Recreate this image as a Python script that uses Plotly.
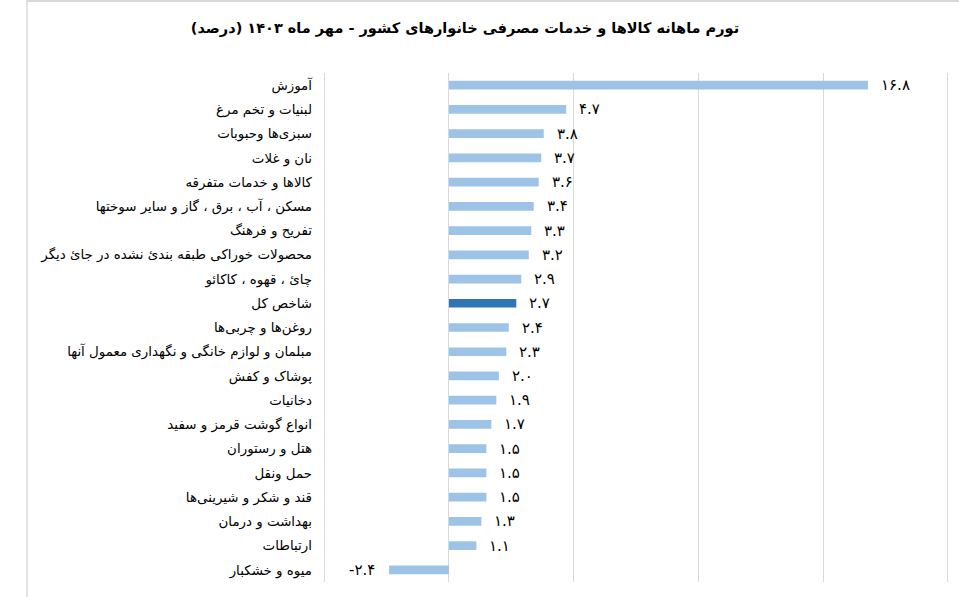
import plotly.graph_objects as go

# ---- data ----
categories = [
    "آموزش",
    "لبنیات و تخم مرغ",
    "سبزی‌ها وحبوبات",
    "نان و غلات",
    "کالاها و خدمات متفرقه",
    "مسکن ، آب ، برق ، گاز و سایر سوختها",
    "تفریح و فرهنگ",
    "محصولات خوراکی طبقه بندیٔ نشده در جایٔ دیگر",
    "چایٔ ، قهوه ، کاکائو",
    "شاخص کل",
    "روغن‌ها و چربی‌ها",
    "مبلمان و لوازم خانگی و نگهداری معمول آنها",
    "پوشاک و کفش",
    "دخانیات",
    "انواع گوشت قرمز و سفید",
    "هتل و رستوران",
    "حمل ونقل",
    "قند و شکر و شیرینی‌ها",
    "بهداشت و درمان",
    "ارتباطات",
    "میوه و خشکبار",
]
values = [16.8, 4.7, 3.8, 3.7, 3.6, 3.4, 3.3, 3.2, 2.9, 2.7, 2.4,
          2.3, 2.0, 1.9, 1.7, 1.5, 1.5, 1.5, 1.3, 1.1, -2.4]
highlight = "شاخص کل"
title_text = "تورم ماهانه کالاها و خدمات مصرفی خانوارهای کشور - مهر ماه ۱۴۰۳ (درصد)"

LIGHT = "#9DC3E6"
DARK = "#2E75B6"
GRID = "#D9D9D9"
FONT = "DejaVu Sans, Arial, sans-serif"

PERSIAN = str.maketrans("0123456789", "۰۱۲۳۴۵۶۷۸۹")


def fa(v):
    # left-to-right embedding keeps the minus sign on the left
    return "\u202a" + f"{v:.1f}".translate(PERSIAN) + "\u202c"


colors = [DARK if c == highlight else LIGHT for c in categories]
labels = [fa(v) for v in values]

W, H = 959, 597
ML, MR, MT, MB = 323, 10, 73, 15

fig = go.Figure()
fig.add_trace(go.Bar(
    x=values, y=categories, orientation="h",
    marker=dict(color=colors, line=dict(width=0)),
    width=0.36, hoverinfo="skip",
))

for c, v, t in zip(categories, values, labels):
    fig.add_annotation(
        x=v, y=c, text=t, showarrow=False,
        xanchor="left" if v >= 0 else "right",
        xshift=11 if v >= 0 else -12,
        font=dict(family=FONT, size=15, color="#000"),
    )

pw = W - ML - MR
ph = H - MT - MB
# frame lines (left and top border of the chart area)
fig.add_shape(type="line", xref="paper", yref="paper",
              x0=(27 - ML) / pw, x1=(27 - ML) / pw, y0=(H - MB - H) / ph, y1=(H - MB) / ph,
              line=dict(color=GRID, width=1.5))
fig.add_shape(type="line", xref="paper", yref="paper",
              x0=(27 - ML) / pw, x1=(W - ML) / pw, y0=(H - MB - 1) / ph, y1=(H - MB - 1) / ph,
              line=dict(color=GRID, width=2))

fig.update_layout(
    width=W, height=H,
    margin=dict(l=ML, r=MR, t=MT, b=MB),
    paper_bgcolor="white", plot_bgcolor="white",
    showlegend=False,
    title=dict(text="\u200f" + title_text + "\u200f", x=465 / W, xanchor="center",
               y=1 - 28 / H, yanchor="middle", xref="container", yref="container",
               font=dict(family=FONT, size=14.5, color="#000", weight="bold")),
    xaxis=dict(range=[-5.05, 20.05], dtick=5, tick0=0, showticklabels=False,
               showgrid=True, gridcolor=GRID, gridwidth=1,
               zeroline=True, zerolinecolor=GRID, zerolinewidth=1,
               showline=False, fixedrange=True),
    yaxis=dict(categoryorder="array", categoryarray=categories,
               autorange="reversed", showgrid=False, zeroline=False,
               ticks="", ticklabelstandoff=10,
               tickfont=dict(family=FONT, size=13.4, color="#000")),
)

fig.write_html("out.html")
